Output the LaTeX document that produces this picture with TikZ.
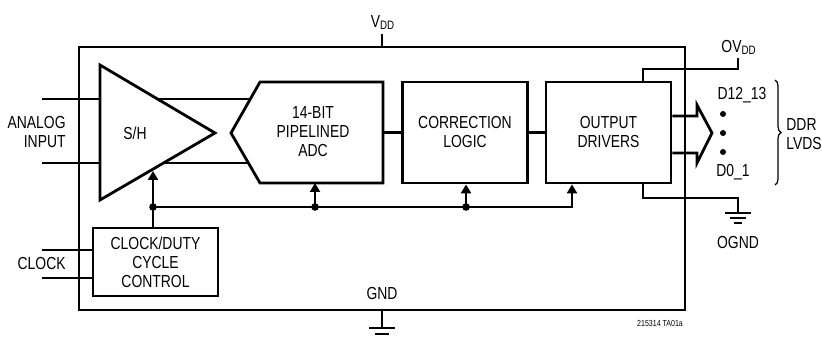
\documentclass[tikz,border=0pt]{standalone}
\usepackage{fontspec}
\setmainfont{Liberation Sans}[FakeStretch=0.8]
\usetikzlibrary{arrows.meta,decorations.pathreplacing}
\tikzset{wire/.style={line width=1.4pt}}
\tikzset{lbl/.style={align=center,inner sep=0pt,font=\fontsize{8.7}{9.5}\selectfont}}
\tikzset{blk/.style={lbl,draw=black,line width=1.4pt,rectangle,minimum width=62.5pt,minimum height=50.5pt}}
\tikzset{clkarrow/.style={wire,-{Triangle[length=4.5pt,width=5pt]}}}
\tikzset{jdot/.style={circle,fill=black,inner sep=0pt,minimum size=3.8pt}}

\begin{document}
\begin{tikzpicture}[x=0.5pt,y=-0.5pt]
\useasboundingbox (0,0) rectangle (822,341);

\node[draw,line width=1.4pt,minimum width=303pt,minimum height=131.5pt] (chip) at (382,178.5) {};
\node[lbl,anchor=south] (vdd) at (383,30) {V\textsubscript{DD}};
\draw[wire] (chip.north) -- ++(0,-12);

% S/H and ADC
\draw[wire] (100,65) -- (215,133) -- (100,200) -- cycle;
\node[lbl] (sh) at (135,133) {S/H};
\draw[wire] (260,82) -- (383,82) -- (383,183) -- (260,183) -- (231,133) -- cycle;
\coordinate (adcout) at (383,132.5);
\node[lbl] (adc) at (313,131.5) {14-BIT\\PIPELINED\\ADC};
\node[blk] (corr) at (465,132.5) {CORRECTION\\LOGIC};
\node[blk] (drv) at (608.5,132.5) {OUTPUT\\DRIVERS};
\node[blk,minimum height=34pt] (clkbox) at (155.5,262) {CLOCK/DUTY\\CYCLE\\CONTROL};
\draw[wire] (adcout) -- (corr);
\draw[wire] (corr) -- (drv);

\node[lbl,align=right,anchor=east] (ain) at (66,132.5) {ANALOG\\INPUT};
\draw[wire] (42,99) -- (100,99);
\draw[wire] (42,163) -- (100,163);
\draw[wire] (157.5,99) -- (250,99);
\draw[wire] (163.5,163) -- (248.5,163);

\node[lbl,anchor=east] (clkin) at (66,264) {CLOCK};
\draw[wire] (42,250) -- (clkbox.west |- 42,250);
\draw[wire] (42,278) -- (clkbox.west |- 42,278);

% clock bus
\node[jdot] (j1) at (153,207) {};
\node[jdot] (j2) at (315,207) {};
\node[jdot] (j3) at (466,207) {};
\draw[wire] (clkbox.north -| j1) -- (j1.center);
\draw[clkarrow] (j1.center) -- (153,171);
\draw[clkarrow] (j1.center) -| (drv.south -| 572,207);
\draw[clkarrow] (j2.center) -- (315,183);
\draw[clkarrow] (j3.center) -- (corr.south -| j3);

% outputs
\draw[wire] (drv.east |- 671,116) -- (697,116) -- (697,105) -- (712,133) -- (697,163) -- (697,153) -- (drv.east |- 671,153);
\node[lbl] (dhi) at (742,95) {D12\_13};
\node[jdot,minimum size=3pt] (o1) at (723,114) {};
\node[jdot,minimum size=3pt] (o2) at (723,133) {};
\node[jdot,minimum size=3pt] (o3) at (723,152) {};
\node[lbl] (dlo) at (733,172) {D0\_1};
\draw[line width=0.6pt,decorate,decoration={brace,amplitude=3pt}] (775,80) -- (775,185);
\node[lbl,align=left,anchor=west] (lvds) at (786,134) {DDR\\LVDS};

% supplies
\node[lbl,anchor=south] (ovdd) at (739,55) {OV\textsubscript{DD}};
\draw[wire] (drv.north -| 643,82) -- (643,69) -- (738,69) -- (738,58);
\draw[wire] (drv.south -| 643,183) -- (643,198) -- (738,198) -- (738,213);
\draw[wire] (725,213) -- (751,213);
\draw[wire] (730,218) -- (746,218);
\draw[wire] (734,223) -- (742,223);
\node[lbl] (ognd) at (738,243) {OGND};

\node[lbl] (gnd) at (382,294) {GND};
\draw[wire] (chip.south) -- (382,328);
\draw[wire] (369,328) -- (395,328);
\draw[wire] (375,334) -- (389,334);

\node[lbl,font=\fontsize{4.4}{5}\selectfont] (ref) at (660,323) {215314 TA01a};
\end{tikzpicture}
\end{document}
